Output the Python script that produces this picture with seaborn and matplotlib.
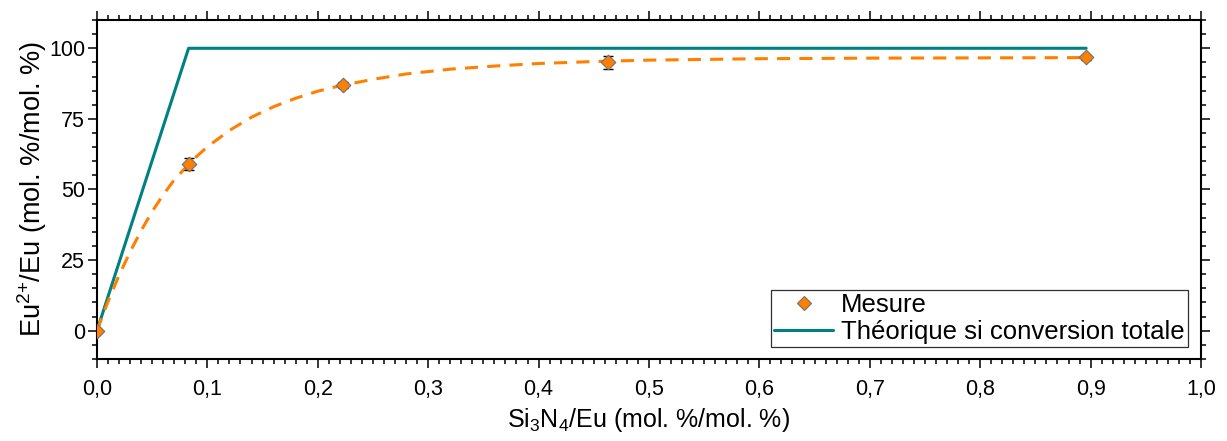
import numpy as np
import pandas as pd
import matplotlib
matplotlib.use("Agg")
import matplotlib.pyplot as plt
from matplotlib.ticker import MultipleLocator, FuncFormatter
from matplotlib.lines import Line2D
import seaborn as sns

# Data
meas_x = [0.0, 0.083, 0.223, 0.463, 0.896]
meas_y = [0.0, 59.0, 87.0, 95.0, 96.8]
meas_err = [0.0, 2.2, 1.0, 2.4, 0.8]

theo_x = [0.0, 0.083, 0.896]
theo_y = [0.0, 100.0, 100.0]

fit_x = [0.0, 0.01, 0.02, 0.03, 0.04, 0.05, 0.06, 0.07, 0.08, 0.09, 0.10,
         0.12, 0.14, 0.16, 0.18, 0.20, 0.22, 0.25, 0.28, 0.32, 0.36, 0.40,
         0.45, 0.50, 0.60, 0.70, 0.80, 0.90]
fit_y = [0.0, 10.3, 19.6, 27.9, 35.4, 42.2, 48.1, 53.4, 57.6, 61.6, 65.1,
         70.9, 75.6, 79.3, 82.3, 84.8, 86.7, 89.0, 90.9, 92.6, 93.7, 94.6,
         95.3, 95.8, 96.3, 96.5, 96.6, 96.7]

TEAL = "#008080"
ORANGE = "#FF8000"

sns.set_style("ticks")
plt.rcParams["font.family"] = ["Liberation Sans", "DejaVu Sans"]
plt.rcParams["mathtext.default"] = "regular"
plt.rcParams["text.color"] = "black"
plt.rcParams["axes.labelcolor"] = "black"
plt.rcParams["xtick.color"] = "black"
plt.rcParams["ytick.color"] = "black"

fig = plt.figure(figsize=(12.27, 4.41), dpi=100)
ax = fig.add_axes([0.079, 0.186, 0.8998, 0.7686])

meas = pd.DataFrame({"x": meas_x, "y": meas_y})
theo = pd.DataFrame({"x": theo_x, "y": theo_y})
fit = pd.DataFrame({"x": fit_x, "y": fit_y})

# Theoretical line (full conversion)
sns.lineplot(data=theo, x="x", y="y", ax=ax, color=TEAL, linewidth=2.2,
             sort=False, estimator=None, zorder=2)

# Fitted curve (dashed)
sns.lineplot(data=fit, x="x", y="y", ax=ax, color=ORANGE, linewidth=2.2,
             sort=False, estimator=None, zorder=2)
ax.lines[-1].set_dashes((4.3, 3.0))

# Error bars + measured points
ax.errorbar(meas_x, meas_y, yerr=meas_err, fmt="none", ecolor="black",
            elinewidth=1.0, capsize=3.5, capthick=1.0, zorder=3)
sns.scatterplot(data=meas, x="x", y="y", ax=ax, marker="D", s=55,
                color=ORANGE, edgecolor="#707070", linewidth=0.8, zorder=4)

ax.set_xlim(0, 1.0)
ax.set_ylim(-10, 110)
ax.xaxis.set_major_locator(MultipleLocator(0.1))
ax.xaxis.set_minor_locator(MultipleLocator(0.01))
ax.yaxis.set_major_locator(MultipleLocator(25))
ax.yaxis.set_minor_locator(MultipleLocator(5))
ax.xaxis.set_major_formatter(FuncFormatter(lambda v, p: f"{v:.1f}".replace(".", ",")))
ax.yaxis.set_major_formatter(FuncFormatter(lambda v, p: f"{v:.0f}"))

ax.tick_params(which="both", direction="out", top=True, right=True,
               labeltop=False, labelright=False, width=1.1, color="black",
               labelcolor="black")
ax.tick_params(which="major", length=6.5, labelsize=15.5)
ax.tick_params(which="minor", length=3.6)
ax.tick_params(axis="x", which="major", pad=8)
ax.tick_params(axis="y", which="major", pad=2)
for side in ["top", "right", "bottom", "left"]:
    ax.spines[side].set_visible(True)
    ax.spines[side].set_linewidth(1.5)
    ax.spines[side].set_color("black")

ax.set_xlabel("Si$_3$N$_4$/Eu (mol. %/mol. %)", fontsize=18, labelpad=4)
ax.set_ylabel("Eu$^{2{+}}$/Eu (mol. %/mol. %)", fontsize=19.5, labelpad=0)

handles = [
    Line2D([], [], linestyle="none", marker="D", markersize=7,
           markerfacecolor=ORANGE, markeredgecolor="#707070", markeredgewidth=0.8),
    Line2D([], [], color=TEAL, linewidth=2.2),
]
leg = ax.legend(handles, ["Mesure", "Théorique si conversion totale"],
                loc="lower right", bbox_to_anchor=(0.988, 0.035),
                borderaxespad=0, fontsize=18.5, frameon=True, fancybox=False,
                framealpha=1, edgecolor="#303030", borderpad=0.12,
                handlelength=2.3, handletextpad=0.3, labelspacing=0.1)
leg.get_frame().set_linewidth(0.9)

plt.savefig("out.png", dpi=100)
